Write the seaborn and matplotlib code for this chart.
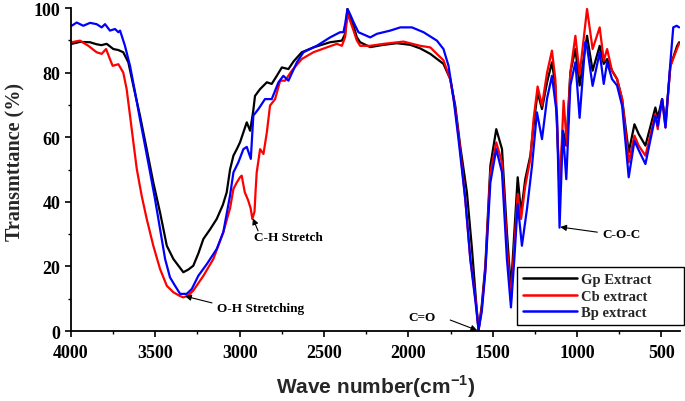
import numpy as np
import pandas as pd
import matplotlib
matplotlib.use("Agg")
import matplotlib.pyplot as plt
import seaborn as sns
from matplotlib.ticker import MultipleLocator

# ---------------- data ----------------
series_names = ["Gp Extract", "Cb extract", "Bp extract"]
series_colors = ["#000000", "#ff0000", "#0000ff"]

gp_wn = [3996, 3947, 3887, 3850, 3820, 3788, 3749, 3720, 3690, 3660, 3630, 3591, 3551, 3512,
         3472, 3432, 3393, 3360, 3334, 3305, 3275, 3245, 3215, 3175, 3136, 3100, 3077, 3057,
         3037, 3017, 2998, 2978, 2958, 2938, 2920, 2909, 2879, 2839, 2810, 2780, 2750, 2711,
         2680, 2632, 2563, 2464, 2394, 2375, 2361, 2345, 2325, 2306, 2286, 2226, 2147, 2068,
         1989, 1930, 1870, 1792, 1752, 1722, 1693, 1653, 1623, 1600, 1584, 1565, 1544, 1514,
         1479, 1445, 1416, 1392, 1372, 1352, 1332, 1307, 1277, 1258, 1234, 1208, 1178, 1149,
         1129, 1104, 1084, 1064, 1040, 1010, 985, 941, 908, 866, 842, 822, 793, 763, 733, 694,
         660, 635, 595, 536, 522, 496, 476, 447, 407, 395]
gp_t = [88.9, 89.5, 89.4, 88.8, 88.5, 88.9, 87.3, 87.0, 86.3, 83.2, 75.9, 66.7, 56.3, 46.0,
        36.7, 26.4, 22.3, 20.0, 18.2, 19.0, 20.2, 24.0, 28.5, 31.5, 34.7, 39.0, 42.9, 50.0,
        54.3, 56.3, 58.4, 61.5, 64.6, 62.0, 68.0, 72.8, 74.9, 77.0, 76.5, 79.0, 81.6, 81.1,
        83.5, 86.3, 87.8, 89.4, 89.9, 92.0, 99.7, 97.0, 94.5, 91.0, 89.4, 87.9, 88.6, 89.1,
        88.6, 87.5, 85.8, 82.7, 78.0, 69.7, 57.4, 42.9, 25.4, 10.0, 0.3, 8.0, 20.2, 51.2,
        62.5, 56.3, 30.6, 13.0, 30.6, 47.6, 36.7, 47.1, 54.3, 63.6, 73.9, 68.7, 77.0, 83.2,
        75.9, 44.0, 62.0, 57.4, 80.0, 87.3, 76.0, 91.4, 80.6, 88.3, 82.7, 84.2, 80.6, 78.0, 71.8, 55.3,
        64.0, 61.0, 57.4, 69.2, 66.0, 71.8, 64.6, 82.0, 88.3, 89.4]

cb_wn = [3996, 3947, 3897, 3848, 3818, 3792, 3769, 3753, 3719, 3690, 3670, 3650, 3630, 3610,
         3581, 3551, 3512, 3472, 3432, 3393, 3360, 3334, 3305, 3275, 3215, 3156, 3097, 3057,
         3037, 3017, 2998, 2988, 2970, 2950, 2935, 2925, 2912, 2905, 2899, 2879, 2859, 2839,
         2820, 2790, 2760, 2731, 2691, 2632, 2563, 2484, 2424, 2394, 2375, 2361, 2345, 2325,
         2306, 2286, 2226, 2147, 2029, 1930, 1870, 1792, 1752, 1722, 1693, 1663, 1633, 1600,
         1584, 1565, 1544, 1514, 1479, 1445, 1416, 1392, 1372, 1352, 1332, 1307, 1277, 1258,
         1234, 1208, 1178, 1149, 1129, 1103, 1080, 1060, 1040, 1010, 985, 941, 908, 866, 842,
         822, 793, 763, 733, 694, 660, 635, 595, 536, 522, 496, 476, 447, 407, 395]
cb_t = [89.4, 89.9, 88.3, 86.3, 85.8, 87.3, 84.2, 82.1, 82.6, 80.0, 74.9, 66.7, 58.4, 50.2,
        41.9, 34.7, 26.4, 19.2, 14.0, 12.0, 11.0, 10.4, 11.0, 12.5, 17.1, 22.3, 30.6, 38.0,
        44.0, 46.0, 47.6, 48.1, 43.0, 40.5, 38.0, 34.7, 37.0, 44.0, 49.1, 56.3, 54.8, 61.5,
        69.8, 71.8, 77.5, 77.5, 80.6, 84.2, 86.3, 87.8, 88.9, 88.3, 91.0, 98.1, 96.0, 93.0,
        90.0, 88.3, 88.3, 88.9, 89.6, 88.3, 87.8, 83.8, 78.0, 68.7, 56.3, 40.9, 22.3, 9.0,
        0.3, 7.0, 19.0, 49.1, 58.4, 52.2, 26.4, 9.4, 26.4, 42.4, 34.7, 45.0, 53.3, 65.6,
        75.7, 69.8, 80.0, 86.8, 78.0, 43.4, 71.3, 57.4, 80.0, 91.4, 79.4, 99.7, 87.3, 94.0, 83.7,
        87.3, 80.6, 78.0, 71.8, 52.2, 60.5, 57.4, 54.3, 67.1, 62.5, 71.8, 63.0, 82.0, 87.5, 89.0]

bp_wn = [3996, 3966, 3927, 3887, 3848, 3818, 3798, 3769, 3739, 3719, 3709, 3680, 3650, 3620,
         3591, 3561, 3531, 3502, 3472, 3442, 3413, 3383, 3353, 3314, 3284, 3245, 3195, 3136,
         3097, 3057, 3037, 3008, 2978, 2958, 2934, 2919, 2889, 2850, 2810, 2770, 2741, 2711,
         2661, 2622, 2543, 2464, 2405, 2385, 2375, 2361, 2345, 2325, 2296, 2226, 2187, 2108,
         2048, 1979, 1910, 1831, 1792, 1762, 1732, 1703, 1663, 1633, 1600, 1584, 1565, 1544,
         1514, 1479, 1445, 1416, 1392, 1372, 1352, 1327, 1297, 1267, 1238, 1208, 1178, 1149,
         1119, 1104, 1084, 1064, 1040, 1010, 985, 951, 941, 908, 866, 842, 822, 793, 763, 733,
         694, 660, 635, 595, 536, 522, 496, 476, 447, 430, 410, 395]
bp_t = [94.5, 95.5, 94.5, 95.4, 95.0, 94.0, 95.0, 93.0, 93.5, 92.5, 93.0, 88.3, 82.1, 73.9,
        65.6, 57.4, 49.1, 40.9, 31.6, 22.3, 16.6, 14.0, 11.5, 11.5, 13.0, 17.1, 20.7, 25.4,
        30.6, 42.0, 49.1, 52.2, 56.3, 57.0, 53.3, 66.7, 68.7, 71.8, 71.8, 77.0, 79.0, 77.5,
        83.2, 86.3, 88.3, 90.9, 92.5, 92.5, 95.0, 99.7, 98.0, 95.6, 92.5, 90.9, 92.0, 93.0,
        94.0, 94.0, 92.5, 89.9, 87.3, 82.1, 71.8, 59.4, 40.9, 22.3, 8.0, 0.3, 6.0, 18.2,
        46.0, 56.3, 49.1, 22.3, 7.3, 22.3, 39.3, 26.4, 37.8, 51.2, 67.7, 59.4, 72.0, 79.0,
        66.7, 32.0, 62.0, 47.0, 76.0, 83.2, 66.0, 89.4, 88.0, 75.9, 86.3, 76.5, 83.2, 78.0, 76.0, 69.7,
        47.6, 58.9, 56.0, 51.7, 66.5, 63.5, 71.8, 63.0, 83.2, 94.0, 94.5, 94.0]

x_ticks = [4000, 3500, 3000, 2500, 2000, 1500, 1000, 500]
y_ticks = [0, 20, 40, 60, 80, 100]

# ---------------- build table ----------------
frames = []
for name, wn, t in zip(series_names, [gp_wn, cb_wn, bp_wn], [gp_t, cb_t, bp_t]):
    frames.append(pd.DataFrame({"wn": wn, "T": t, "sample": name}))
df = pd.concat(frames, ignore_index=True)

# ---------------- style ----------------
sns.set_style("ticks")
plt.rcParams["font.family"] = ["Liberation Serif", "DejaVu Serif"]
plt.rcParams["mathtext.fontset"] = "custom"
plt.rcParams["mathtext.rm"] = "Liberation Sans:bold"
plt.rcParams["mathtext.bf"] = "Liberation Sans:bold"

fig = plt.figure(figsize=(6.85, 4.02), dpi=100)
ax = fig.add_axes([0.1036, 0.1741, 0.9927 - 0.1036, 0.9776 - 0.1741])

sns.lineplot(data=df, x="wn", y="T", hue="sample", hue_order=series_names,
             palette=series_colors, linewidth=1.6, ax=ax, estimator=None, sort=True)

ax.set_xlim(4000, 390)
ax.set_ylim(0, 100)
ax.xaxis.set_major_locator(MultipleLocator(500))
ax.xaxis.set_minor_locator(MultipleLocator(250))
ax.yaxis.set_major_locator(MultipleLocator(20))
ax.yaxis.set_minor_locator(MultipleLocator(10))
ax.set_xticks(x_ticks)
ax.set_yticks(y_ticks)

for s in ["top", "right"]:
    ax.spines[s].set_visible(False)
for s in ["left", "bottom"]:
    ax.spines[s].set_linewidth(1.3)
    ax.spines[s].set_color("black")

ax.tick_params(axis="both", which="major", direction="out", length=4.5, width=1.2,
               labelsize=13, colors="black")
ax.tick_params(axis="x", which="major", pad=5)
ax.tick_params(axis="y", which="major", pad=3)
ax.tick_params(axis="both", which="minor", direction="out", length=2.5, width=1.0, colors="black")
for lab in ax.get_xticklabels() + ax.get_yticklabels():
    lab.set_fontweight("bold")
    lab.set_family(["Liberation Serif"])

ax.set_xlabel(r"Wave number(cm$^{\mathbf{-1}}$)", fontsize=15, fontweight="bold",
              family=["Liberation Sans"], labelpad=8)
ax.set_ylabel("Transmttance (%)", fontsize=14.5, fontweight="bold",
              family=["Liberation Serif"])
ax.yaxis.set_label_coords(-0.075, 0.525)

# legend (Origin-style wide box)
handles, labels = ax.get_legend_handles_labels()
leg = ax.legend(handles, labels, loc="lower left",
                bbox_to_anchor=(0.7323, 0.0186, 0.2742, 0.17), mode="expand",
                frameon=True, fancybox=False, edgecolor="black", framealpha=1,
                prop={"family": "Liberation Serif", "weight": "bold", "size": 10.5},
                handlelength=3.75, labelspacing=0.22, borderpad=0.4, handletextpad=0.25,
                borderaxespad=0)
leg.get_frame().set_linewidth(1.0)
for l in leg.get_lines():
    l.set_linewidth(1.8)

# annotations
arrow_kw = dict(arrowstyle="-|>", color="black", lw=0.8, mutation_scale=9,
                shrinkA=0, shrinkB=0)
txt_kw = dict(fontsize=9.5, fontweight="bold", family=["Liberation Serif"], color="black")

ax.annotate("", xy=(3324, 10.8), xytext=(3164, 8.7), arrowprops=arrow_kw)
ax.text(3134, 7.1, "O-H Stretching", ha="left", va="center", **txt_kw)

ax.annotate("", xy=(2922, 34.9), xytext=(2891, 31.0), arrowprops=arrow_kw)
ax.text(2915, 29.1, "C-H Stretch", ha="left", va="center", **txt_kw)

ax.annotate("", xy=(1592, 0.2), xytext=(1752, 3.4), arrowprops=arrow_kw)
ax.text(1918, 4.3, "C=O", ha="center", va="center", **txt_kw)

ax.annotate("", xy=(1100, 32.2), xytext=(880, 30.6), arrowprops=arrow_kw)
ax.text(850, 30.0, "C-O-C", ha="left", va="center", **txt_kw)

fig.savefig("out.png", dpi=100)
